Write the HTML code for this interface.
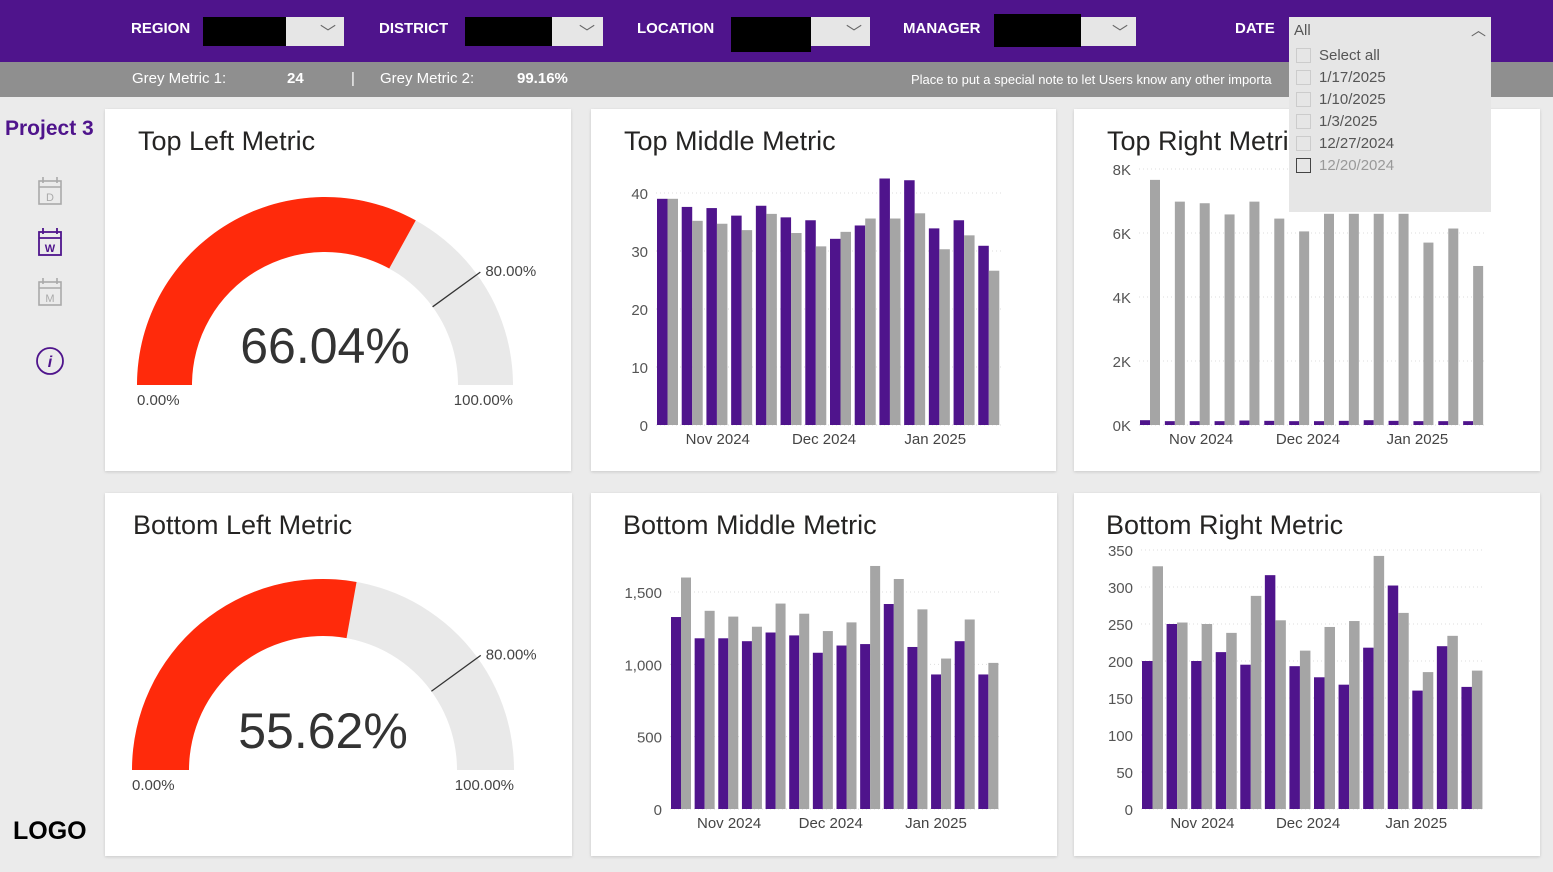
<!DOCTYPE html>
<html><head><meta charset="utf-8"><style>
body{margin:0;width:1553px;height:872px;background:#ebebeb;font-family:"Liberation Sans",sans-serif;position:relative;overflow:hidden}
.abs{position:absolute}
.hdr{left:0;top:0;width:1553px;height:62px;background:#4f148c}
.sub{left:0;top:62px;width:1553px;height:35px;background:#8f8f8f;color:#fff;font-size:15px}
.lbl{color:#fff;font-weight:bold;font-size:15px;top:20px}
.sel{top:17px;height:29px;background:#e6e6e6}
.sel .blk{position:absolute;left:0;top:0;height:29px;background:#000}
.sel .chev{position:absolute;right:8px;top:2px;color:#666;font-size:16px}
.card{background:#fff;box-shadow:0 1px 3px rgba(0,0,0,.15)}
.title{font-size:27px;color:#252423;position:absolute}
svg text{font-family:"Liberation Sans",sans-serif}
</style></head><body>
<div class="abs hdr"></div>
<div class="abs lbl" style="left:131px">REGION</div>
<div class="abs sel" style="left:203px;width:141px"><div class="blk" style="width:83px"></div><span class="chev">﹀</span></div>
<div class="abs lbl" style="left:379px">DISTRICT</div>
<div class="abs sel" style="left:465px;width:138px"><div class="blk" style="width:87px"></div><span class="chev">﹀</span></div>
<div class="abs lbl" style="left:637px">LOCATION</div>
<div class="abs sel" style="left:731px;width:139px"><div class="blk" style="width:80px;height:35px"></div><span class="chev">﹀</span></div>
<div class="abs lbl" style="left:903px">MANAGER</div>
<div class="abs sel" style="left:994px;width:142px"><div class="blk" style="width:87px;height:33px;top:-3px"></div><span class="chev">﹀</span></div>
<div class="abs lbl" style="left:1235px">DATE</div>
<div class="abs sub">
<span class="abs" style="left:132px;top:8px">Grey Metric 1:</span><b class="abs" style="left:287px;top:8px">24</b><span class="abs" style="left:351px;top:8px">|</span>
<span class="abs" style="left:380px;top:8px">Grey Metric 2:</span><b class="abs" style="left:517px;top:8px">99.16%</b>
<span class="abs" style="left:911px;top:10px;font-size:13px;white-space:nowrap">Place to put a special note to let Users know any other importa</span></div>
<div class="abs" style="left:5px;top:117px;font-size:21px;font-weight:bold;color:#4f148c">Project 3</div>
<svg class="abs" style="left:30px;top:170px" width="42" height="210">
<g fill="none" stroke="#aaa" stroke-width="1.6"><rect x="9" y="11" width="22" height="23"/><line x1="9" y1="17" x2="31" y2="17"/><path d="M13 7v6M27 7v6"/></g><text x="20" y="31" font-size="11" fill="#aaa" text-anchor="middle">D</text>
<g fill="none" stroke="#4f148c" stroke-width="1.8"><rect x="9" y="62" width="22" height="23"/><line x1="9" y1="68" x2="31" y2="68"/><path d="M13 58v6M27 58v6"/></g><text x="20" y="82" font-size="11" fill="#4f148c" text-anchor="middle" font-weight="bold">W</text>
<g fill="none" stroke="#aaa" stroke-width="1.6"><rect x="9" y="112" width="22" height="23"/><line x1="9" y1="118" x2="31" y2="118"/><path d="M13 108v6M27 108v6"/></g><text x="20" y="132" font-size="11" fill="#aaa" text-anchor="middle">M</text>
<circle cx="20" cy="191" r="13" fill="none" stroke="#4f148c" stroke-width="1.8"/><text x="20" y="197" font-size="16" fill="#4f148c" text-anchor="middle" font-style="italic" font-weight="bold">i</text></svg>
<div class="abs" style="left:13px;top:817px;font-size:25px;font-weight:bold;color:#000">LOGO</div>

<div class="abs card" style="left:105px;top:109px;width:466px;height:362px"><div class="title" style="left:33px;top:17px">Top Left Metric</div></div>
<div class="abs card" style="left:591px;top:109px;width:465px;height:362px"><div class="title" style="left:33px;top:17px">Top Middle Metric</div></div>
<div class="abs card" style="left:1074px;top:109px;width:466px;height:362px"><div class="title" style="left:33px;top:17px">Top Right Metric</div></div>
<div class="abs card" style="left:105px;top:493px;width:467px;height:363px"><div class="title" style="left:28px;top:17px">Bottom Left Metric</div></div>
<div class="abs card" style="left:591px;top:493px;width:466px;height:363px"><div class="title" style="left:32px;top:17px">Bottom Middle Metric</div></div>
<div class="abs card" style="left:1074px;top:493px;width:466px;height:363px"><div class="title" style="left:32px;top:17px">Bottom Right Metric</div></div>

<svg id="chart" class="abs" style="left:0;top:0" width="1553" height="872"></svg>

<div class="abs" style="left:1289px;top:17px;width:202px;height:195px;background:#e6e6e6;font-size:15px;color:#555">
<div style="position:absolute;left:5px;top:5px">All</div><div style="position:absolute;right:5px;top:2px;color:#666">︿</div>
<div id="dlist"></div></div>

<script>
const categories=["W1","W2","W3","W4","W5","W6","W7","W8","W9","W10","W11","W12","W13","W14"];
const monthLabels=["Nov 2024","Dec 2024","Jan 2025"];
const tmPurple=[39,37.6,37.4,36.1,37.8,35.8,35.3,32.1,34.4,42.5,42.2,33.9,35.3,30.9];
const tmGrey=[39,35.2,34.7,33.6,36.4,33.1,30.8,33.3,35.6,35.6,36.5,30.3,32.7,26.6];
const tmTicks=[0,10,20,30,40];
const trPurple=[0.15,0.12,0.12,0.12,0.14,0.13,0.12,0.12,0.13,0.15,0.13,0.12,0.12,0.12];
const trGrey=[7.66,6.98,6.93,6.58,6.98,6.45,6.05,6.6,6.6,6.6,6.6,5.7,6.14,4.97];
const trTicks=[0,2,4,6,8];
const bmPurple=[1327,1180,1180,1160,1220,1200,1080,1130,1140,1417,1120,930,1160,930];
const bmGrey=[1600,1370,1330,1260,1420,1350,1230,1290,1680,1590,1380,1040,1310,1010];
const bmTicks=[0,500,1000,1500];
const brPurple=[200,250,200,212,195,316,193,178,168,218,302,160,220,165];
const brGrey=[328,252,250,238,288,255,214,246,254,342,265,185,234,187];
const brTicks=[0,50,100,150,200,250,300,350];
const gauge1=[66.04,80];
const gauge2=[55.62,80];
const dateItems=["Select all","1/17/2025","1/10/2025","1/3/2025","12/27/2024","12/20/2024"];

const NS="http://www.w3.org/2000/svg",svg=document.getElementById('chart');
function mk(t,a,p){const e=document.createElementNS(NS,t);for(const k in a)e.setAttribute(k,a[k]);(p||svg).appendChild(e);return e;}
function txt(s,x,y,sz,anc,fill,p){const e=mk('text',{x:x,y:y,'font-size':sz,'text-anchor':anc||'start',fill:fill||'#555'},p);e.textContent=s;return e;}

function barChart(name,cfg,pv,gv,ticks,fmt,max){
  const g=mk('g',{});
  
  
  const y=v=>cfg.y0-(v/max)*(cfg.y0-cfg.yTop);
  const bw=(cfg.x1-cfg.x0)/categories.length;
  ticks.forEach(t=>{
    mk('line',{x1:cfg.x0,x2:cfg.x1,y1:y(t),y2:y(t),stroke:'#ddd','stroke-dasharray':'1,3'},g);
    const l=txt(fmt(t),cfg.x0-8,y(t)+6,15,'end','#555',g);
    
    
  });
  categories.forEach((c,i)=>{
    const xs=cfg.x0+i*bw+1;
    const a=mk('rect',{x:xs,y:y(pv[i]),width:cfg.w,height:cfg.y0-y(pv[i]),fill:'#4f148c'},g);
    
    
    const b=mk('rect',{x:xs+cfg.w,y:y(gv[i]),width:cfg.w,height:cfg.y0-y(gv[i]),fill:'#a5a5a5'},g);
    
    
  });
  monthLabels.forEach((m,i)=>{
    const l=txt(m,cfg.x0+bw*cfg.mpos[i],cfg.y0+19,15,'middle','#444',g);
    
    
  });
}
barChart('top-middle-chart',{x0:656,x1:1002,y0:425,yTop:193,w:10.5,mpos:[2.5,6.8,11.3]},tmPurple,tmGrey,tmTicks,t=>t,40);
barChart('top-right-chart',{x0:1139,x1:1487,y0:425,yTop:169,w:10,mpos:[2.5,6.8,11.2]},trPurple,trGrey,trTicks,t=>t+'K',8);
barChart('bottom-middle-chart',{x0:670,x1:1001,y0:809,yTop:592,w:10,mpos:[2.5,6.8,11.25]},bmPurple,bmGrey,bmTicks,t=>t.toLocaleString('en-US'),1500);
barChart('bottom-right-chart',{x0:1141,x1:1485,y0:809,yTop:550,w:10.5,mpos:[2.5,6.8,11.2]},brPurple,brGrey,brTicks,t=>t,350);

function gauge(name,cx,cy,R,r,vals){
  const g=mk('g',{});
  
  
  const pt=(p,rad)=>{const a=Math.PI*(1-p/100);return [cx+rad*Math.cos(a),cy-rad*Math.sin(a)];};
  const arc=(p0,p1,fill)=>{const a=pt(p0,R),b=pt(p1,R),c=pt(p1,r),d=pt(p0,r);
    return mk('path',{d:`M${a}A${R},${R} 0 0 1 ${b}L${c}A${r},${r} 0 0 0 ${d}Z`,fill:fill},g);};
  arc(0,100,'#e9e9e9');
  const v=arc(0,vals[0],'#ff2a0b');
  
  
  const t0=pt(vals[1],r),t1=pt(vals[1],R+4);
  mk('line',{x1:t0[0],y1:t0[1],x2:t1[0],y2:t1[1],stroke:'#333','stroke-width':1.3},g);
  txt(vals[1].toFixed(2)+'%',t1[0]+5,t1[1]+4,15,'start','#444',g);
  txt(vals[0].toFixed(2)+'%',cx,cy-22,50,'middle','#333',g);
  txt('0.00%',cx-R,cy+20,15,'start','#444',g);
  txt('100.00%',cx+R,cy+20,15,'end','#444',g);
}
gauge('top-left-gauge',325,385,188,133,gauge1);
gauge('bottom-left-gauge',323,770,191,134,gauge2);

const dl=document.getElementById('dlist');
dateItems.forEach((d,i)=>{
  const row=document.createElement('div');
  
  
  row.style.cssText=`position:absolute;left:7px;top:${30+i*22}px;display:flex;align-items:center;color:${i==5?'#999':'#555'}`;
  row.innerHTML=`<span style="display:inline-block;width:13px;height:13px;border:1px solid ${i==5?'#444':'#ccc'};margin-right:8px"></span>${d}`;
  dl.appendChild(row);
});
</script>
</body></html>
